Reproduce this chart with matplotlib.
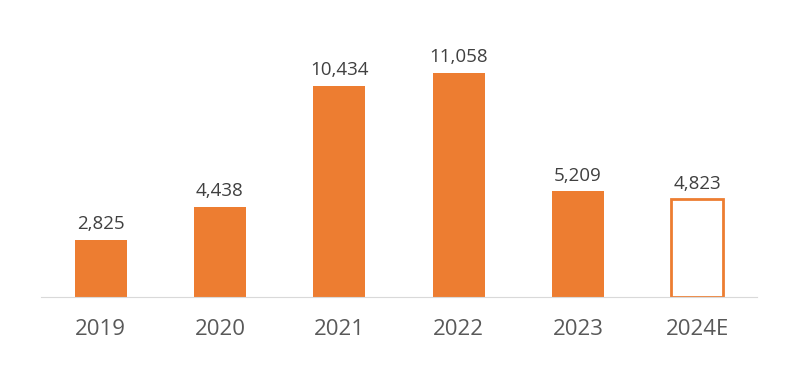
import matplotlib.pyplot as plt

# data
years = ['2019', '2020', '2021', '2022', '2023', '2024E']
values = [2825, 4438, 10434, 11058, 5209, 4823]
estimate = [False, False, False, False, False, True]

orange = '#ED7D31'
plt.rcParams['font.family'] = ['Open Sans', 'DejaVu Sans']

fig = plt.figure(figsize=(8.12, 3.85), dpi=100)
ax = fig.add_axes([41 / 812, 88 / 385, 716 / 812, 277 / 385])

x = list(range(len(years)))
for xi, v, est in zip(x, values, estimate):
    if est:
        ax.bar(xi, v, width=0.437, facecolor='white', edgecolor=orange, linewidth=2)
    else:
        ax.bar(xi, v, width=0.437, color=orange)
    ax.text(xi, v + 330, f'{v:,}', ha='center', va='bottom', fontsize=13.5, color='#404040')

ax.set_xlim(-0.5, len(years) - 0.5)
ax.set_ylim(0, 13674)
ax.set_xticks(x)
ax.set_xticklabels(years, fontsize=16, color='#595959')
ax.tick_params(axis='x', length=0, pad=16)
ax.set_yticks([])
for s in ['top', 'right', 'left']:
    ax.spines[s].set_visible(False)
ax.spines['bottom'].set_color('#D9D9D9')

fig.savefig('out.png', dpi=100)
